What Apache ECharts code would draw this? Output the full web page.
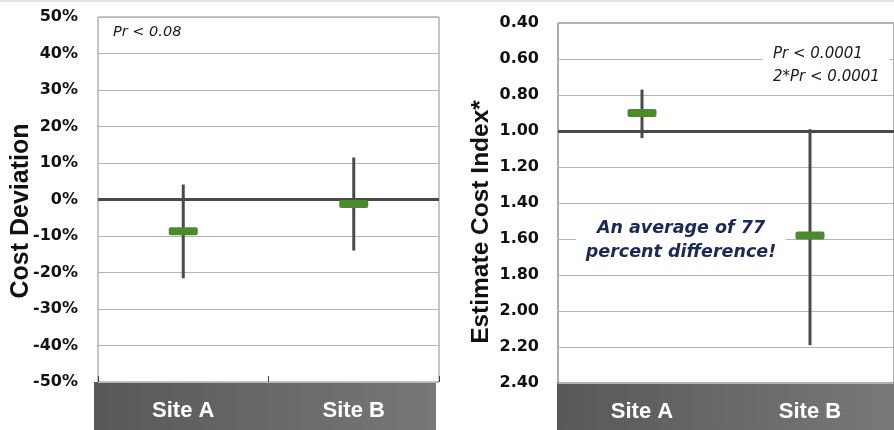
<!DOCTYPE html>
<html>
<head>
<meta charset="utf-8">
<script src="https://cdn.jsdelivr.net/npm/echarts@6/dist/echarts.min.js"></script>
<style>
  html, body { margin: 0; padding: 0; background: #fff; }
  #chart { width: 894px; height: 430px; }
</style>
</head>
<body>
<div id="chart"></div>
<script>
// ---- Data ----
const categories = ['Site A', 'Site B'];

// Left panel: Cost Deviation (%)
const devMean = [-8.7, -1.2];
const devLow  = [-21.6, -14.0];
const devHigh = [4.1, 11.5];
const devRef  = 0;
const devTicks = { min: -50, max: 50, interval: 10 };

// Right panel: Estimate Cost Index*
const idxMean = [0.90, 1.58];
const idxLow  = [1.04, 2.19];
const idxHigh = [0.77, 0.99];
const idxRef  = 1.0;
const idxTicks = { min: 0.4, max: 2.4, interval: 0.2 };

const leftNote = 'Pr < 0.08';
const rightNote = 'Pr < 0.0001\n2*Pr < 0.0001';
const rightCallout = 'An average of 77\npercent difference!';

// ---- Build ----
function rows(mean, low, high) {
  return categories.map((c, i) => [i, mean[i], low[i], high[i]]);
}

function renderErr(params, api) {
  const x = api.value(0);
  const pm = api.coord([x, api.value(1)]);
  const pl = api.coord([x, api.value(2)]);
  const ph = api.coord([x, api.value(3)]);
  return {
    type: 'group',
    children: [
      { type: 'line', shape: { x1: pl[0], y1: pl[1], x2: ph[0], y2: ph[1] },
        style: { stroke: '#4a4a4a', lineWidth: 3 } },
      { type: 'rect', shape: { x: pm[0] - 14.5, y: pm[1] - 4, width: 29, height: 8, r: 2 },
        style: { fill: '#4b8a2d' } }
    ]
  };
}

const labelFont = { fontFamily: 'DejaVu Sans', fontWeight: 'bold', fontSize: 16, color: '#111' };
const catFont = { fontFamily: 'Liberation Sans', fontWeight: 'bold', fontSize: 22, color: '#fff' };

const bandGrad = {
  type: 'linear', x: 0, y: 0, x2: 1, y2: 0,
  colorStops: [{ offset: 0, color: '#585858' }, { offset: 1, color: '#787878' }]
};

const option = {
  animation: false,
  backgroundColor: '#fff',
  grid: [
    { left: 98, top: 17, width: 341, height: 365, show: true, borderColor: '#8c8c8c', borderWidth: 1, backgroundColor: '#fff' },
    { left: 558, top: 23, width: 342, height: 360, show: true, borderColor: '#5a5a5a', borderWidth: 1, backgroundColor: '#fff' }
  ],
  xAxis: [
    { type: 'category', gridIndex: 0, data: categories,
      axisLine: { show: false, onZero: false },
      axisTick: { show: true, inside: true, length: 6, lineStyle: { color: '#444' } },
      axisLabel: Object.assign({ margin: 18 }, catFont) },
    { type: 'category', gridIndex: 1, data: categories,
      axisLine: { show: false, onZero: false }, axisTick: { show: false },
      axisLabel: Object.assign({ margin: 18 }, catFont) }
  ],
  yAxis: [
    { type: 'value', gridIndex: 0, min: devTicks.min, max: devTicks.max, interval: devTicks.interval,
      name: 'Cost Deviation', nameLocation: 'middle', nameGap: 64, nameRotate: 90, nameMoveOverlap: false,
      nameTextStyle: { fontFamily: 'Liberation Sans', fontWeight: 'bold', fontSize: 25, color: '#111', padding: [0, 23, 0, 0] },
      axisLine: { show: false }, axisTick: { show: false },
      splitLine: { lineStyle: { color: '#b4b4b4', width: 1 } },
      axisLabel: Object.assign({ margin: 20, formatter: v => v + '%' }, labelFont) },
    { type: 'value', gridIndex: 1, inverse: true, min: idxTicks.min, max: idxTicks.max, interval: idxTicks.interval,
      name: 'Estimate Cost Index*', nameLocation: 'middle', nameGap: 64, nameRotate: 90,
      nameTextStyle: { fontFamily: 'Liberation Sans', fontWeight: 'bold', fontSize: 24.5, color: '#111', padding: [0, 38, 0, 0] },
      axisLine: { show: false }, axisTick: { show: false },
      splitLine: { lineStyle: { color: '#b4b4b4', width: 1 } },
      axisLabel: Object.assign({ margin: 19, formatter: v => v.toFixed(2) }, labelFont) }
  ],
  series: [
    { type: 'custom', xAxisIndex: 0, yAxisIndex: 0, renderItem: renderErr,
      encode: { x: 0, y: [1, 2, 3] }, data: rows(devMean, devLow, devHigh), z: 5,
      markLine: { silent: true, symbol: 'none', label: { show: false },
        lineStyle: { color: '#4a4a4a', width: 3, type: 'solid' }, data: [{ yAxis: devRef }] } },
    { type: 'custom', xAxisIndex: 1, yAxisIndex: 1, renderItem: renderErr,
      encode: { x: 0, y: [1, 2, 3] }, data: rows(idxMean, idxLow, idxHigh), z: 5,
      markLine: { silent: true, symbol: 'none', label: { show: false },
        lineStyle: { color: '#4a4a4a', width: 3, type: 'solid' }, data: [{ yAxis: idxRef }] } }
  ],
  graphic: [
    { type: 'rect', z: -1, shape: { x: 0, y: 0, width: 894, height: 2 }, style: { fill: '#e4e4e4' } },
    { type: 'rect', z: -1, shape: { x: 94, y: 382, width: 342, height: 48 }, style: { fill: bandGrad } },
    { type: 'rect', z: -1, shape: { x: 557, y: 383, width: 337, height: 47 }, style: { fill: bandGrad } },
    { type: 'text', z: 50, left: 113, top: 25,
      style: { text: leftNote, fontFamily: 'DejaVu Sans', fontStyle: 'italic', fontSize: 14.5, fill: '#1a1a1a' } },
    { type: 'text', z: 50, left: 763, top: 41,
      style: { text: rightNote, fontFamily: 'DejaVu Sans', fontStyle: 'italic', fontSize: 15, lineHeight: 23,
        fill: '#1a1a1a', backgroundColor: '#fff', padding: [2, 10, 2, 10] } },
    { type: 'text', z: 50, x: 681, y: 214,
      style: { text: rightCallout, fontFamily: 'DejaVu Sans', fontStyle: 'italic', fontWeight: 'bold', fontSize: 17.5,
        lineHeight: 24, align: 'center', textAlign: 'center', fill: '#1b2a55', backgroundColor: '#fff', padding: [2, 10, 2, 10] } }
  ]
};

const chart = echarts.init(document.getElementById('chart'), null, { renderer: 'canvas' });
chart.setOption(option);
</script>
</body>
</html>
